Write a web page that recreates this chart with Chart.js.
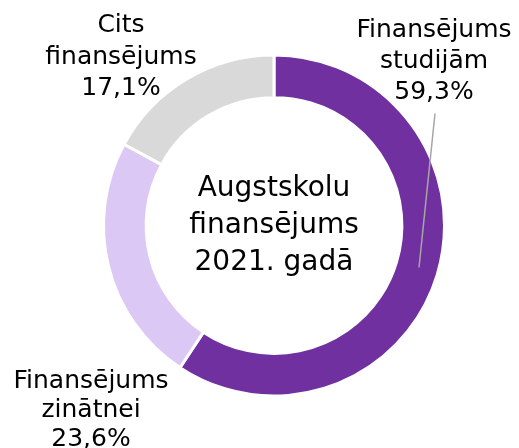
<!DOCTYPE html>
<html><head><meta charset="utf-8">
<script src="https://cdn.jsdelivr.net/npm/chart.js@4/dist/chart.umd.min.js"></script>
<style>html,body{margin:0;padding:0;background:#fff}#wrap{width:519px;height:448px}</style>
</head><body><div id="wrap"><canvas id="c" width="519" height="448"></canvas></div>
<script>
const categories = ["Finansējums studijām", "Finansējums zinātnei", "Cits finansējums"];
const values = [59.3, 23.6, 17.1];
const valueLabels = ["59,3%", "23,6%", "17,1%"];
const colors = ["#7030A0", "#DCC8F4", "#D9D9D9"];
const centerLines = ["Augstskolu", "finansējums", "2021. gadā"];

const FONT = '"DejaVu Sans", Verdana, sans-serif';

const labelPlugin = {
  id: 'labels',
  afterDraw(chart) {
    const ctx = chart.ctx;
    const arc = chart.getDatasetMeta(0).data[0];
    const cx = arc.x, cy = arc.y;
    ctx.save();
    ctx.fillStyle = '#000';
    ctx.textAlign = 'center';
    ctx.textBaseline = 'middle';
    ctx.font = '28px ' + FONT;
    centerLines.forEach((t, i) => ctx.fillText(t, cx, cy - 37 + i * 37));
    ctx.font = '25px ' + FONT;
    const pos = [
      {x: cx + 160, y: cy - 195, lh: 31},
      {x: cx - 183, y: cy + 156, lh: 29},
      {x: cx - 153, y: cy - 200, lh: 31.5}
    ];
    categories.forEach((c, i) => {
      const words = c.split(' ');
      const lines = [...words, valueLabels[i]];
      lines.forEach((t, j) => ctx.fillText(t, pos[i].x, pos[i].y + j * pos[i].lh));
    });
    // leader line for first label
    ctx.strokeStyle = '#A6A6A6';
    ctx.lineWidth = 1.5;
    ctx.beginPath();
    ctx.moveTo(cx + 161, cy - 112);
    ctx.lineTo(cx + 145, cy + 42);
    ctx.stroke();
    ctx.restore();
  }
};

new Chart(document.getElementById('c'), {
  type: 'doughnut',
  data: {
    labels: categories,
    datasets: [{
      data: values,
      backgroundColor: colors,
      borderColor: '#fff',
      borderWidth: 3
    }]
  },
  options: {
    responsive: false,
    animation: false,
    cutout: '75%',
    layout: {padding: {top: 53, bottom: 50, left: 102, right: 73}},
    plugins: {legend: {display: false}, tooltip: {enabled: false}}
  },
  plugins: [labelPlugin]
});
</script>
</body></html>
